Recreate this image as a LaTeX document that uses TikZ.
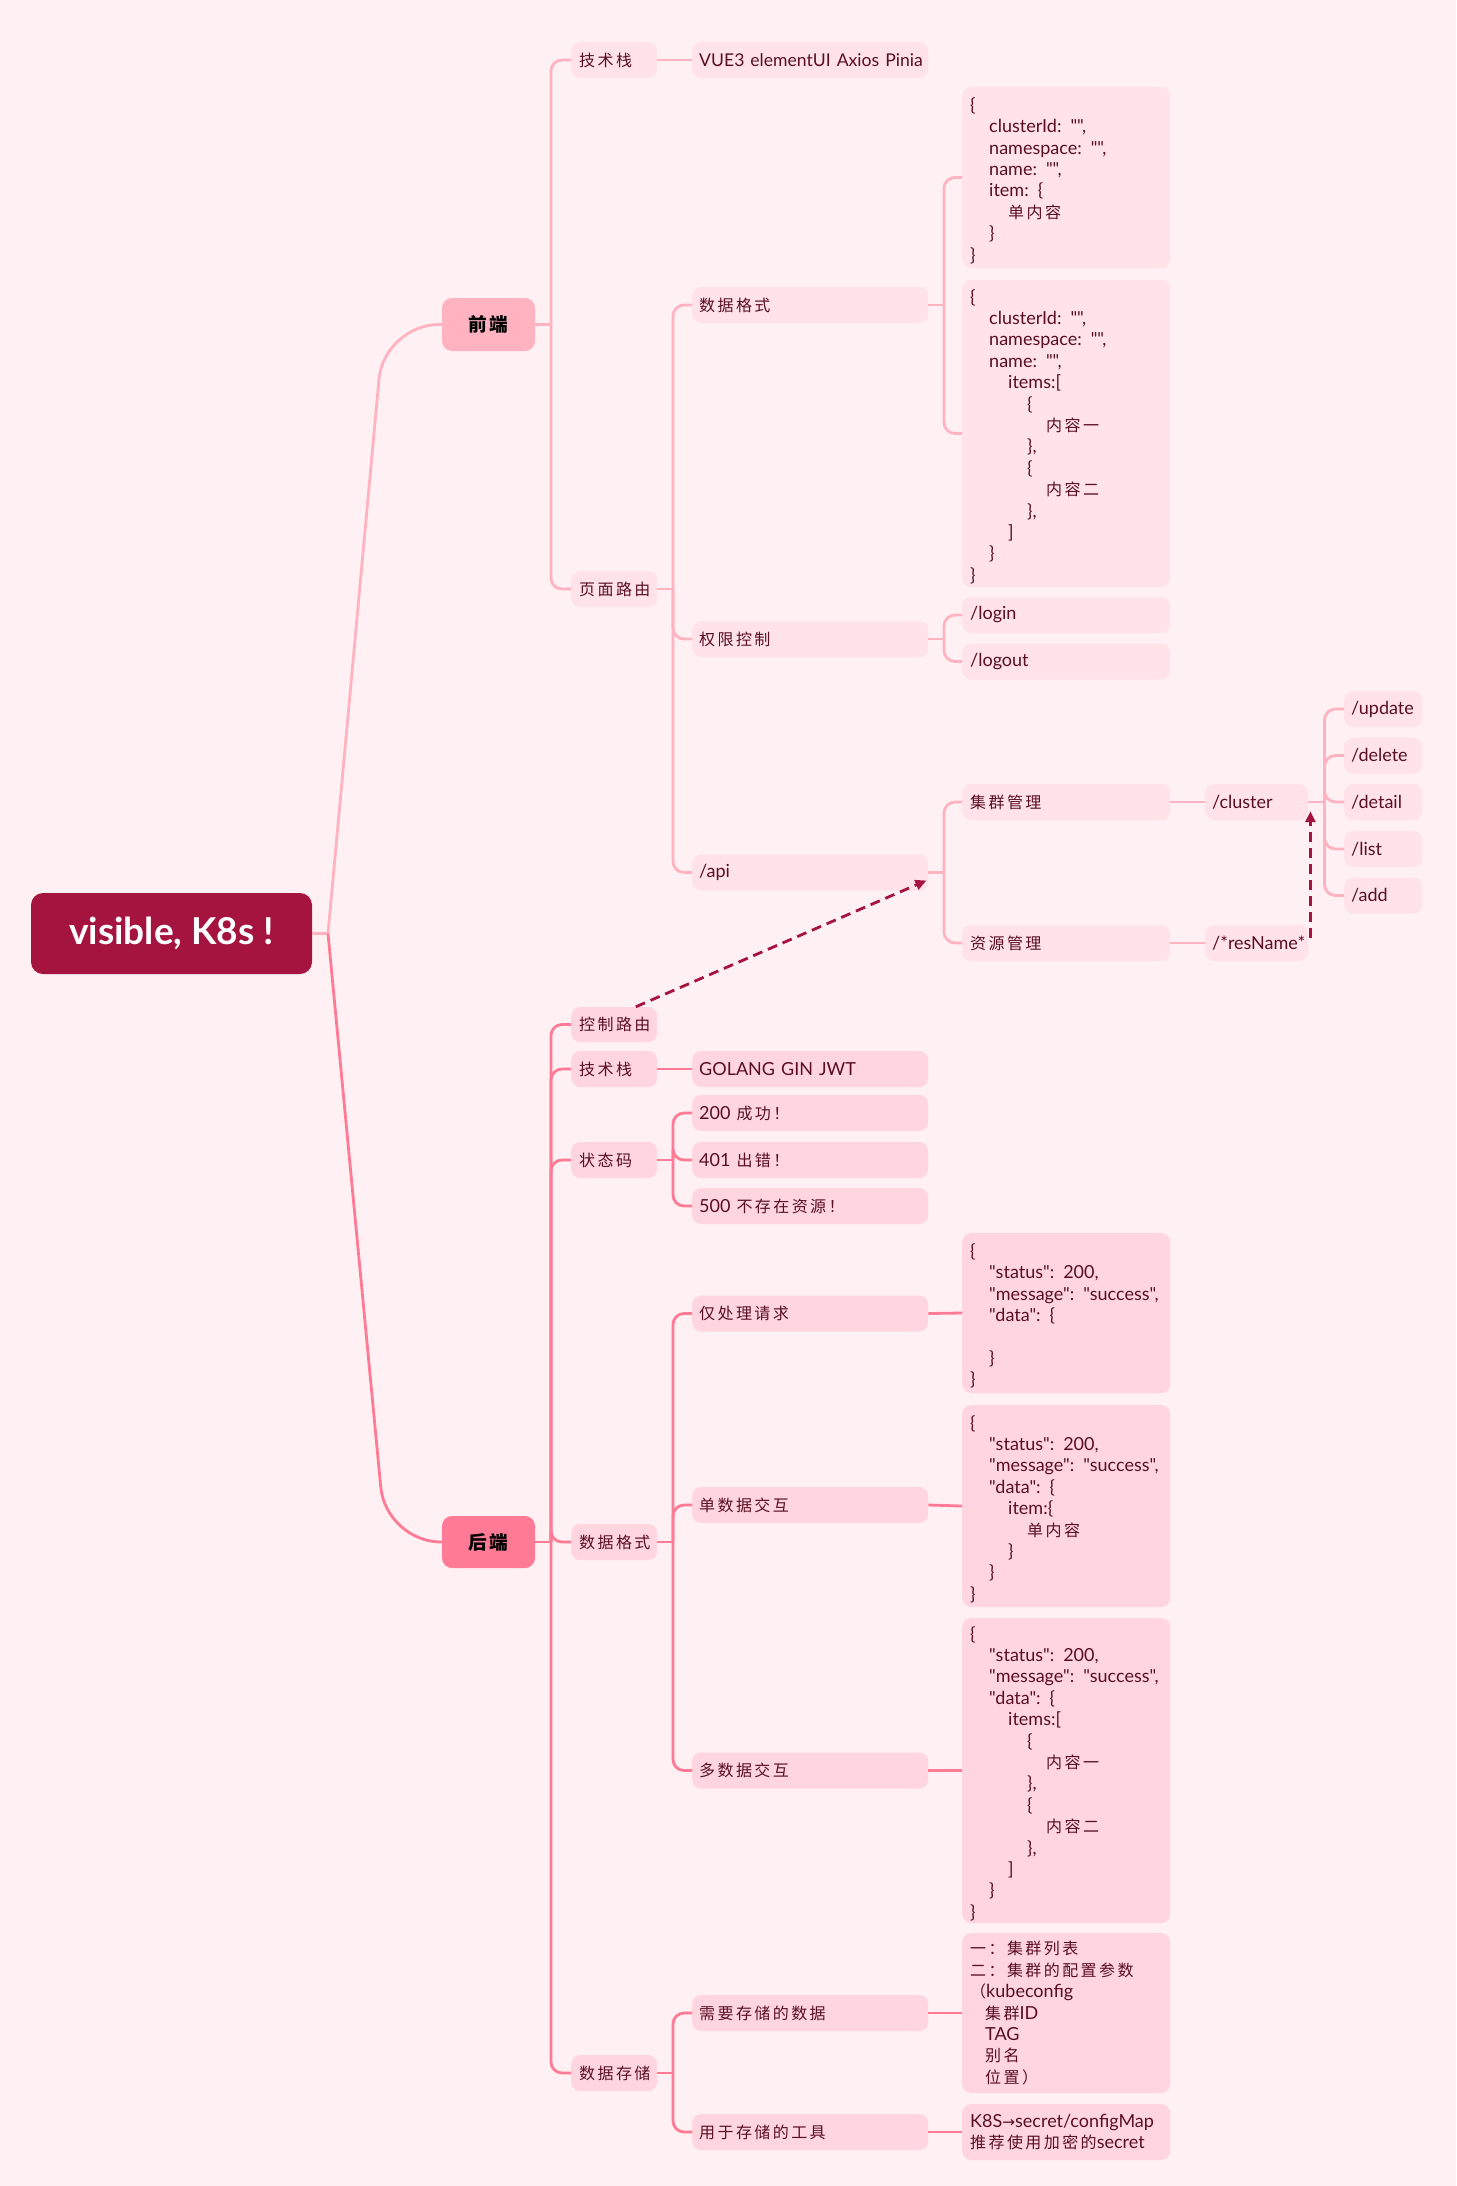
\documentclass[tikz,border=0pt]{standalone}
\usepackage{fontspec}
\setmainfont{Lato}
\newfontfamily\latfont{Lato}
\newfontfamily\cjkfont[Scale=0.89,LetterSpace=15]{Noto Sans CJK SC}
\newfontfamily\arrowfont[Scale=0.85]{DejaVu Sans}
\usetikzlibrary{arrows.meta,calc}
\newcommand\zh[1]{{\cjkfont #1}}
\newcommand\ia{\hspace*{19pt}}
\newcommand\ib{\hspace*{38pt}}
\newcommand\ic{\hspace*{57pt}}
\newcommand\id{\hspace*{76pt}}
\newcommand\tp{\rule{0pt}{20pt}}
\definecolor{bgc}{HTML}{FFF0F3}
\definecolor{rootc}{HTML}{A5143F}
\definecolor{fec}{HTML}{FFB3C1}
\definecolor{bec}{HTML}{FF7A94}
\definecolor{fenode}{HTML}{FFE3E9}
\definecolor{benode}{HTML}{FFD6DF}
\definecolor{txt}{HTML}{5A0E22}
\definecolor{dashc}{HTML}{A5143F}
\begin{document}
\begin{tikzpicture}[x=1pt,y=-1pt,
  every node/.style={inner ysep=0pt, text=txt, font=\latfont\fontsize{18}{21.4}\selectfont},
  box/.style={rounded corners=9pt, anchor=west, align=left, inner xsep=8pt, minimum height=36pt},
  c1/.style={box, text width=70pt},
  c2/.style={box, text width=222pt, inner xsep=7pt},
  c3/.style={box, text width=192pt},
  c4/.style={box, text width=89pt, inner xsep=7pt},
  c5/.style={box, text width=64pt, inner xsep=7pt},
  fen/.style={fill=fenode}, ben/.style={fill=benode},
  fel/.style={draw=fec, line width=2.8pt, rounded corners=11pt},
  bel/.style={draw=bec, line width=2.8pt, rounded corners=11pt},
  dl/.style={draw=dashc, line width=2.8pt, dash pattern=on 10pt off 6pt, -{Triangle[length=11pt,width=10pt]}},
]
\useasboundingbox (0,0) rectangle (1456,2186);
\fill[bgc] (0,0) rectangle (1456,2186);

% root and main branches
\node[fill=rootc, rounded corners=12pt, minimum width=281pt, minimum height=81pt, text=white,
  font=\latfont\fontsize{37}{40}\selectfont\bfseries] (root) at (171.5,933.5) {visible, K8s !};
\node[fill=fec, rounded corners=10pt, minimum width=93pt, minimum height=53pt, text=black,
  font=\fontsize{21}{25}\selectfont] (fe) at (488.5,324.5) {\zh{\bfseries 前端}};
\node[fill=bec, rounded corners=10pt, minimum width=93pt, minimum height=52pt, text=black,
  font=\fontsize{21}{25}\selectfont] (be) at (488.5,1542) {\zh{\bfseries 后端}};

% frontend nodes
\node[c1,fen] (fetech) at (571,60) {\zh{技术栈}};
\node[c2,fen] (festack) at (692,60) {\mbox{\fontsize{17.6}{21}\selectfont VUE3 elementUI Axios Pinia}};
\node[c1,fen] (feroute) at (571,589) {\zh{页面路由}};
\node[c2,fen] (fefmt) at (692,305) {\zh{数据格式}};
\node[c2,fen] (feauth) at (692,639) {\zh{权限控制}};
\node[c2,fen] (api) at (692,872.5) {/api};
\node[c3,fen,minimum height=181pt] (j1) at (962,177.5) {\tp\{\\
\ia clusterId: "",\\
\ia namespace: "",\\
\ia name: "",\\
\ia item: \{\\
\ib\zh{单内容}\\
\ia\}\\
\}};
\node[c3,fen,minimum height=307pt] (j2) at (962,433.5) {\tp\{\\
\ia clusterId: "",\\
\ia namespace: "",\\
\ia name: "",\\
\ib items:[\\
\ic\{\\
\id\zh{内容一}\\
\ic\},\\
\ic\{\\
\id\zh{内容二}\\
\ic\},\\
\ib]\\
\ia\}\\
\}};
\node[c3,fen] (login) at (962,615) {/login};
\node[c3,fen] (logout) at (962,661.5) {/logout};
\node[c3,fen] (cm) at (962,802) {\zh{集群管理}};
\node[c3,fen] (rm) at (962,943) {\zh{资源管理}};
\node[c4,fen] (cl) at (1205,802) {/cluster};
\node[c4,fen] (res) at (1205,943) {/*resName*};
\node[c5,fen] (upd) at (1344,709) {/update};
\node[c5,fen] (del) at (1344,755.5) {/delete};
\node[c5,fen] (det) at (1344,802) {/detail};
\node[c5,fen] (lst) at (1344,849) {/list};
\node[c5,fen] (add) at (1344,895.5) {/add};

% backend nodes
\node[c1,ben,minimum height=35pt] (ctrl) at (571,1024.5) {\zh{控制路由}};
\node[c1,ben] (betech) at (571,1069) {\zh{技术栈}};
\node[c1,ben] (status) at (571,1160) {\zh{状态码}};
\node[c1,ben] (befmt) at (571,1542) {\zh{数据格式}};
\node[c1,ben] (store) at (571,2073) {\zh{数据存储}};
\node[c2,ben] (bestack) at (692,1069) {GOLANG GIN JWT};
\node[c2,ben] (s200) at (692,1113) {200 \zh{成功！}};
\node[c2,ben] (s401) at (692,1160) {401 \zh{出错！}};
\node[c2,ben] (s500) at (692,1206) {500 \zh{不存在资源！}};
\node[c2,ben] (only) at (692,1313.5) {\zh{仅处理请求}};
\node[c2,ben] (single) at (692,1505) {\zh{单数据交互}};
\node[c2,ben] (multi) at (692,1770.5) {\zh{多数据交互}};
\node[c2,ben] (need) at (692,2013) {\zh{需要存储的数据}};
\node[c2,ben] (tool) at (692,2132) {\zh{用于存储的工具}};
\node[c3,ben,minimum height=160pt] (j3) at (962,1313) {\tp\{\\
\ia"status": 200,\\
\ia"message": "success",\\
\ia"data": \{\\
\mbox{}\\
\ia\}\\
\}};
\node[c3,ben,minimum height=202pt] (j4) at (962,1506) {\tp\{\\
\ia"status": 200,\\
\ia"message": "success",\\
\ia"data": \{\\
\ib item:\{\\
\ic\zh{单内容}\\
\ib\}\\
\ia\}\\
\}};
\node[c3,ben,minimum height=305pt] (j5) at (962,1770.5) {\tp\{\\
\ia"status": 200,\\
\ia"message": "success",\\
\ia"data": \{\\
\ib items:[\\
\ic\{\\
\id\zh{内容一}\\
\ic\},\\
\ic\{\\
\id\zh{内容二}\\
\ic\},\\
\ib]\\
\ia\}\\
\}};
\node[c3,ben,minimum height=160pt] (j6) at (962,2013) {\zh{一：集群列表}\\
\zh{二：集群的配置参数}\\
\zh{（}kubeconfig\\
\hspace*{15pt}\zh{集群}ID\\
\hspace*{15pt}TAG\\
\hspace*{15pt}\zh{别名}\\
\hspace*{15pt}\zh{位置）}};
\node[c3,ben,minimum height=56pt] (j7) at (962,2132) {\mbox{K8S{\arrowfont →}secret/configMap}\\
\zh{推荐使用加密的}secret};

% trunk coordinates
\coordinate (rootT) at (328,933.5);
\coordinate (feT) at (551,324.5);
\coordinate (rtT) at (673,589);
\coordinate (fmtT) at (944,305);
\coordinate (authT) at (944,639);
\coordinate (apiT) at (944,872.5);
\coordinate (clT) at (1324.5,802);
\coordinate (beT) at (551,1542);
\coordinate (stT) at (673,1160);
\coordinate (bfT) at (673,1542);
\coordinate (soT) at (673,2073);

% root connectors
\draw[fel] (root.east) -- (rootT);
\draw[fel, rounded corners=55pt] (rootT) -- (384,324.5) -- (fe.west);
\draw[bel, rounded corners=55pt] (rootT) -- (386,1542) -- (be.west);

% frontend connectors
\draw[fel] (fe.east) -- (feT);
\draw[fel] (feT) |- (fetech.west);
\draw[fel] (feT) |- (feroute.west);
\draw[fel] (fetech.east) -- (festack.west);
\draw[fel] (feroute.east) -- (rtT);
\draw[fel] (rtT) |- (fefmt.west);
\draw[fel] (rtT) |- (feauth.west);
\draw[fel] (rtT) |- (api.west);
\draw[fel] (fefmt.east) -- (fmtT);
\draw[fel] (fmtT) |- (j1.west);
\draw[fel] (fmtT) |- (j2.west);
\draw[fel] (feauth.east) -- (authT);
\draw[fel] (authT) |- (login.west);
\draw[fel] (authT) |- (logout.west);
\draw[fel] (api.east) -- (apiT);
\draw[fel] (apiT) |- (cm.west);
\draw[fel] (apiT) |- (rm.west);
\draw[fel] (cm.east) -- (cl.west);
\draw[fel] (rm.east) -- (res.west);
\draw[fel] (cl.east) -- (clT);
\foreach \n in {upd,del,det,lst,add} \draw[fel] (clT) |- (\n.west);

% backend connectors
\draw[bel] (be.east) -- (beT);
\foreach \n in {ctrl,betech,status,befmt,store} \draw[bel] (beT) |- (\n.west);
\draw[bel] (betech.east) -- (bestack.west);
\draw[bel] (status.east) -- (stT);
\foreach \n in {s200,s401,s500} \draw[bel] (stT) |- (\n.west);
\draw[bel] (befmt.east) -- (bfT);
\foreach \n in {only,single,multi} \draw[bel] (bfT) |- (\n.west);
\draw[bel] (only.east) -- (j3.west);
\draw[bel] (single.east) -- (j4.west);
\draw[bel] (multi.east) -- (j5.west);
\draw[bel] (store.east) -- (soT);
\foreach \n in {need,tool} \draw[bel] (soT) |- (\n.west);
\draw[bel] (need.east) -- (j6.west);
\draw[bel] (tool.east) -- (j7.west);

% dashed relations
\draw[dl] ($(ctrl.north)!0.5!(ctrl.north east)$) -- ($(api.east)+(-2,8)$);
\draw[dl] ($(res.east)+(2,-5)$) -- ($(cl.south east)+(2,-9)$);
\end{tikzpicture}
\end{document}
